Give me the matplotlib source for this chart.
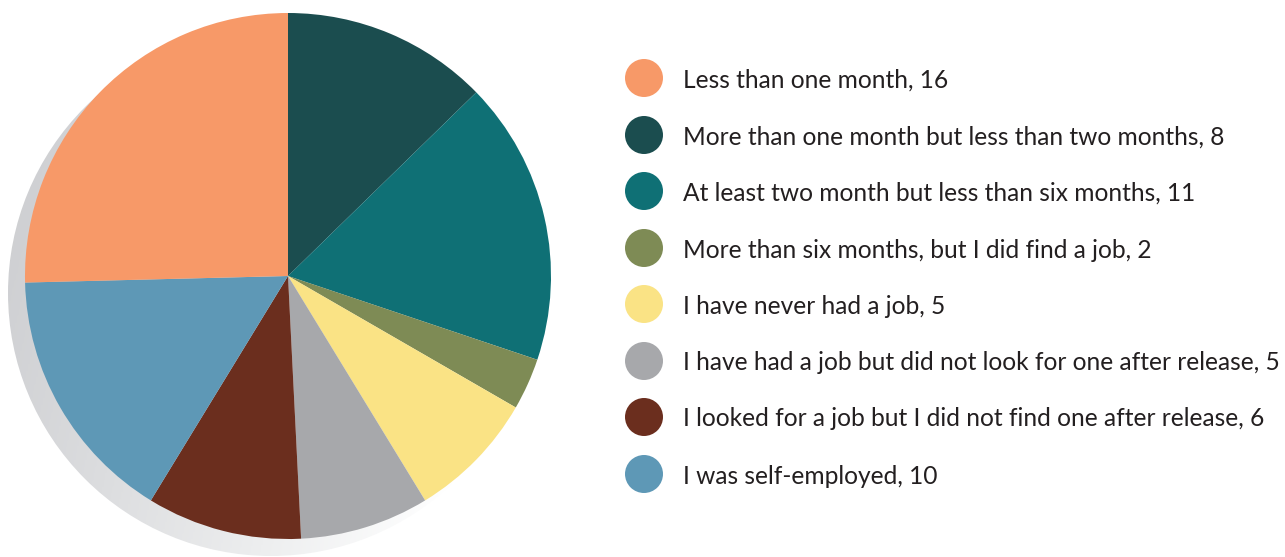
import numpy as np
import matplotlib
matplotlib.use("Agg")
import matplotlib.pyplot as plt
from matplotlib.patches import Circle
from matplotlib.colors import LinearSegmentedColormap

# data (legend order)
labels = [
    "Less than one month",
    "More than one month but less than two months",
    "At least two month but less than six months",
    "More than six months, but I did find a job",
    "I have never had a job",
    "I have had a job but did not look for one after release",
    "I looked for a job but I did not find one after release",
    "I was self-employed",
]
counts = [16, 8, 11, 2, 5, 5, 6, 10]
colors = ["#F79968", "#1B4D4F", "#0F7075", "#7E8B55",
          "#FAE385", "#A7A8AB", "#6B2E1E", "#5E98B6"]

W, H = 1285, 557
fig = plt.figure(figsize=(W / 100, H / 100), dpi=100)
ax = fig.add_axes([0, 0, 1, 1])

# pie geometry in pixel coords (y up)
cx, cy, r = 288, H - 276, 263

# grey shadow behind the pie, fading out towards the right
sx, sy = cx - 17, cy - 17
shadow_cmap = LinearSegmentedColormap.from_list(
    "sh", ["#CDCED1", "#DCDDDF", "#EDEEEF", "#FFFFFF"])
gx, gy = np.meshgrid(np.linspace(-1, 1, 300), np.linspace(-1, 1, 300))
grad = 0.8 * gx - 0.2 * gy
img = ax.imshow(grad, cmap=shadow_cmap, extent=(sx - r, sx + r, sy - r, sy + r),
                origin="lower", vmin=-0.9, vmax=0.7, zorder=0)
clip = Circle((sx, sy), r, transform=ax.transData)
img.set_clip_path(clip)

# slices clockwise from the top: rest of the list first, "Less than one month" last
order = list(range(1, len(counts))) + [0]
ax.pie([counts[i] for i in order], colors=[colors[i] for i in order],
       startangle=90, counterclock=False, center=(cx, cy), radius=r,
       wedgeprops=dict(linewidth=0), frame=True)

# legend
row_y = [78, 135, 191, 248, 304, 361, 417, 474]
texts = []
for lab, n, col, y in zip(labels, counts, colors, row_y):
    ax.add_patch(Circle((644, H - y), 19, color=col, linewidth=0, zorder=3))
    t = ax.text(683, H - y, f"{lab}, {n}", fontsize=15, family="Lato",
                color="#231F20", va="center_baseline", ha="left")
    texts.append(t)

ax.set_xlim(0, W)
ax.set_ylim(0, H)
ax.set_aspect("equal")
ax.axis("off")

# scale legend text so the longest line ends where it does in the chart
fig.canvas.draw()
rend = fig.canvas.get_renderer()
widest = max(t.get_window_extent(rend).width for t in texts)
size = 15 * 599 / widest
for t in texts:
    t.set_fontsize(size)

fig.savefig("out.png", dpi=100)
